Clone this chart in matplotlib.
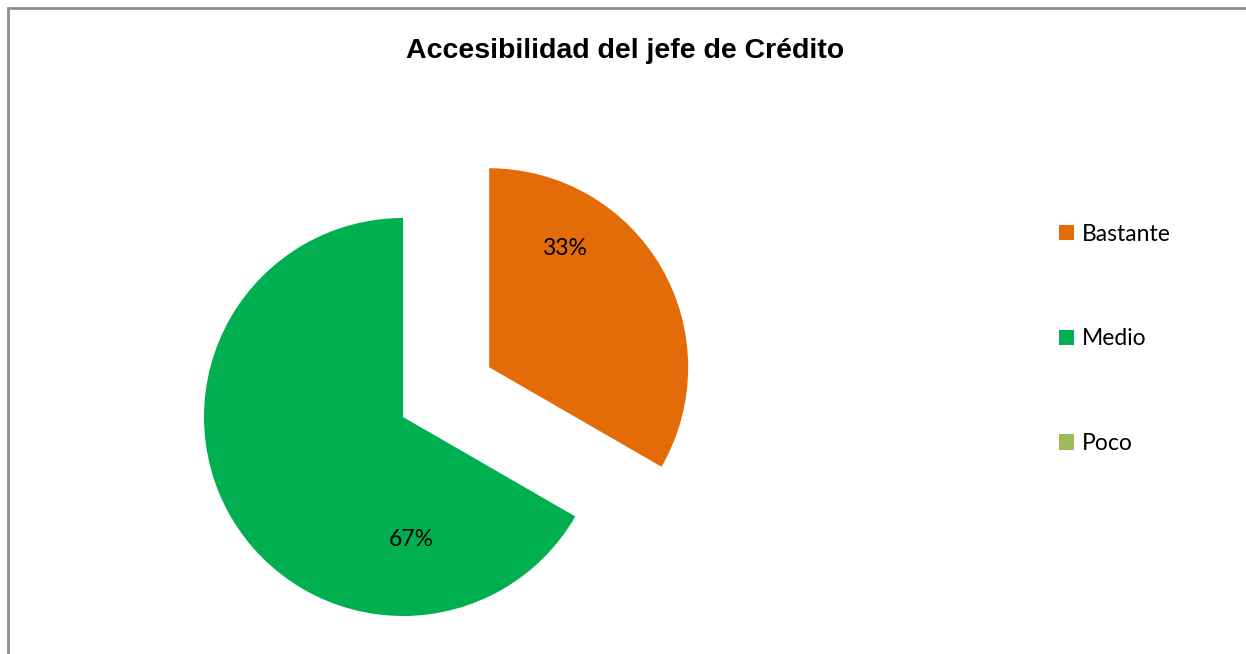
import matplotlib
matplotlib.use("Agg")
import matplotlib.pyplot as plt
from matplotlib.patches import Patch, Rectangle

categorias = ["Bastante", "Medio", "Poco"]
respuestas = [1, 2, 0]
colores = ["#E36C09", "#00B050", "#9BBB59"]
separacion = [0.5, 0, 0]
titulo = "Accesibilidad del jefe de Crédito"

total = sum(respuestas)
porcentajes = [round(100 * r / total) for r in respuestas]

fig = plt.figure(figsize=(12.46, 6.54), dpi=100)

# marco gris del grafico
fig.patches.append(Rectangle((8 / 1246, -0.1), 1.2, (654 - 8) / 654 + 0.1,
                             transform=fig.transFigure, fill=False,
                             edgecolor="#8c8c8c", linewidth=2))

# ejes cuadrados: 1 unidad = 199 px, centro del pastel en (403, 417) px
r_px = 199
lado = 3 * r_px
cx, cy = 403, 654 - 417
ax = fig.add_axes([(cx - lado / 2) / 1246, (cy - lado / 2) / 654, lado / 1246, lado / 654])
wedges, _ = ax.pie(respuestas, colors=colores, explode=separacion, startangle=90,
                   counterclock=False, radius=1,
                   wedgeprops=dict(linewidth=0))
ax.set_xlim(-1.5, 1.5)
ax.set_ylim(-1.5, 1.5)
ax.set_aspect("equal")
ax.axis("off")

# etiquetas de porcentaje
pos_etiquetas = {"Bastante": (0.81, 0.845), "Medio": (0.04, -0.615)}
for cat, pct in zip(categorias, porcentajes):
    if cat in pos_etiquetas:
        x, y = pos_etiquetas[cat]
        ax.text(x, y, f"{pct}%", ha="center", va="center", fontsize=16.5,
                family="Lato", color="black")

fig.text(625 / 1246, 1 - 51 / 654, titulo, ha="center", va="center",
         fontsize=20.5, fontweight="bold", family="Liberation Sans")

handles = [Patch(facecolor=c, edgecolor="none") for c in colores]
fig.legend(handles, categorias, loc="upper left",
           bbox_to_anchor=(1038 / 1246, 1 - 203 / 654), frameon=False,
           prop=dict(family="Lato", size=16.5), handlelength=0.65, handleheight=0.65,
           handletextpad=0.35, labelspacing=3.65)

fig.savefig("out.png", dpi=100)
